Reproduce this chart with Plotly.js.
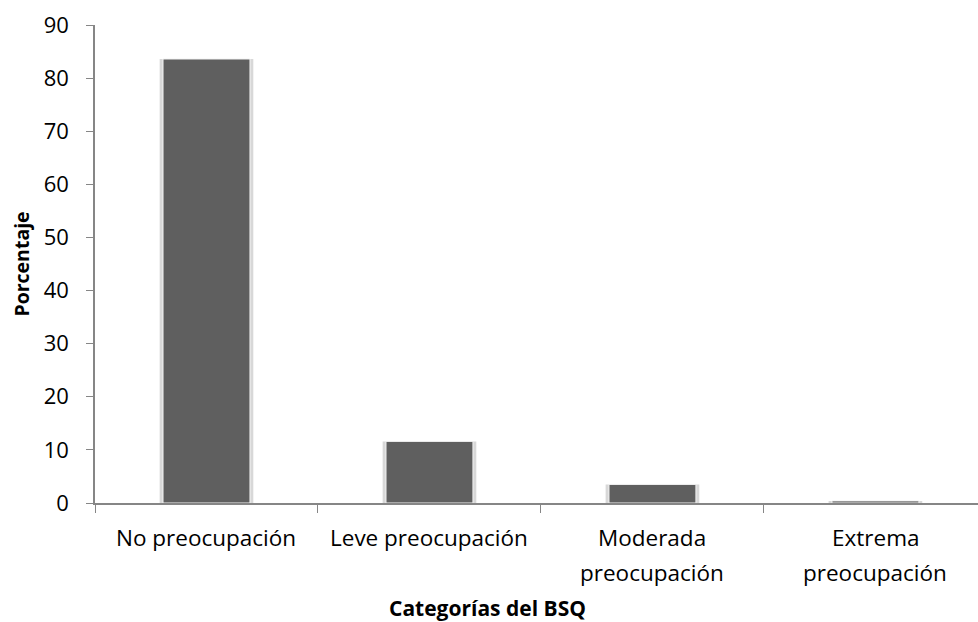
<!DOCTYPE html>
<html><head><meta charset="utf-8">
<script src="https://cdn.plot.ly/plotly-3.0.1.min.js"></script>
<style>body{margin:0;background:#fff}#c{width:978px;height:622px}</style>
</head><body><div id="c"></div>
<script>
const categories = ["No preocupación", "Leve preocupación", "Moderada preocupación", "Extrema preocupación"];
const labelLine1 = ["No preocupación", "Leve preocupación", "Moderada", "Extrema"];
const labelLine2 = ["", "", "preocupación", "preocupación"];
const values = [83.6, 11.6, 3.5, 0.4];
const yTicks = [0,10,20,30,40,50,60,70,80,90];
const F = "'Open Sans', sans-serif";
const traces = [
  {type:"bar", x:categories, y:values, width:0.42, marker:{color:"#d8d8d8"}, hoverinfo:"skip"},
  {type:"bar", x:categories, y:values, width:0.39, marker:{color:"#5f5f5f", line:{color:"#f4f4f4", width:1}}}
];
const ann = [];
categories.forEach((c,i)=>{
  ann.push({text:labelLine1[i], x:c, xref:"x", yref:"paper", y:-(537-503)/478, showarrow:false, xanchor:"center", yanchor:"middle", font:{size:22.5}});
  if (labelLine2[i]) ann.push({text:labelLine2[i], x:c, xref:"x", yref:"paper", y:-(572-503)/478, showarrow:false, xanchor:"center", yanchor:"middle", font:{size:22.5}});
});
ann.push({text:"<b>Categorías del BSQ</b>", xref:"paper", yref:"paper", x:(487-95)/883, y:-(608-503)/478, showarrow:false, font:{size:21}, xanchor:"center", yanchor:"middle"});
const layout = {
  width:978, height:622, showlegend:false, barmode:"overlay",
  margin:{l:95, r:0, t:25, b:119},
  paper_bgcolor:"#fff", plot_bgcolor:"#fff",
  font:{family:F, color:"#000", size:22},
  xaxis:{type:"category", range:[-0.5,3.46], showgrid:false, showline:true, linecolor:"#868686", linewidth:1.5,
    ticks:"outside", tickson:"boundaries", ticklen:8, tickcolor:"#868686", showticklabels:false},
  yaxis:{range:[0,90], tickvals:yTicks, showgrid:false, zeroline:false, showline:true, linecolor:"#868686", linewidth:1.5,
    ticks:"outside", ticklen:7, tickcolor:"#868686", tickfont:{size:22}, ticklabelstandoff:13,
    title:{text:"<b>Porcentaje</b>", font:{size:19.5}, standoff:9}},
  annotations:ann
};
Plotly.newPlot("c", traces, layout, {displayModeBar:false});
</script></body></html>
